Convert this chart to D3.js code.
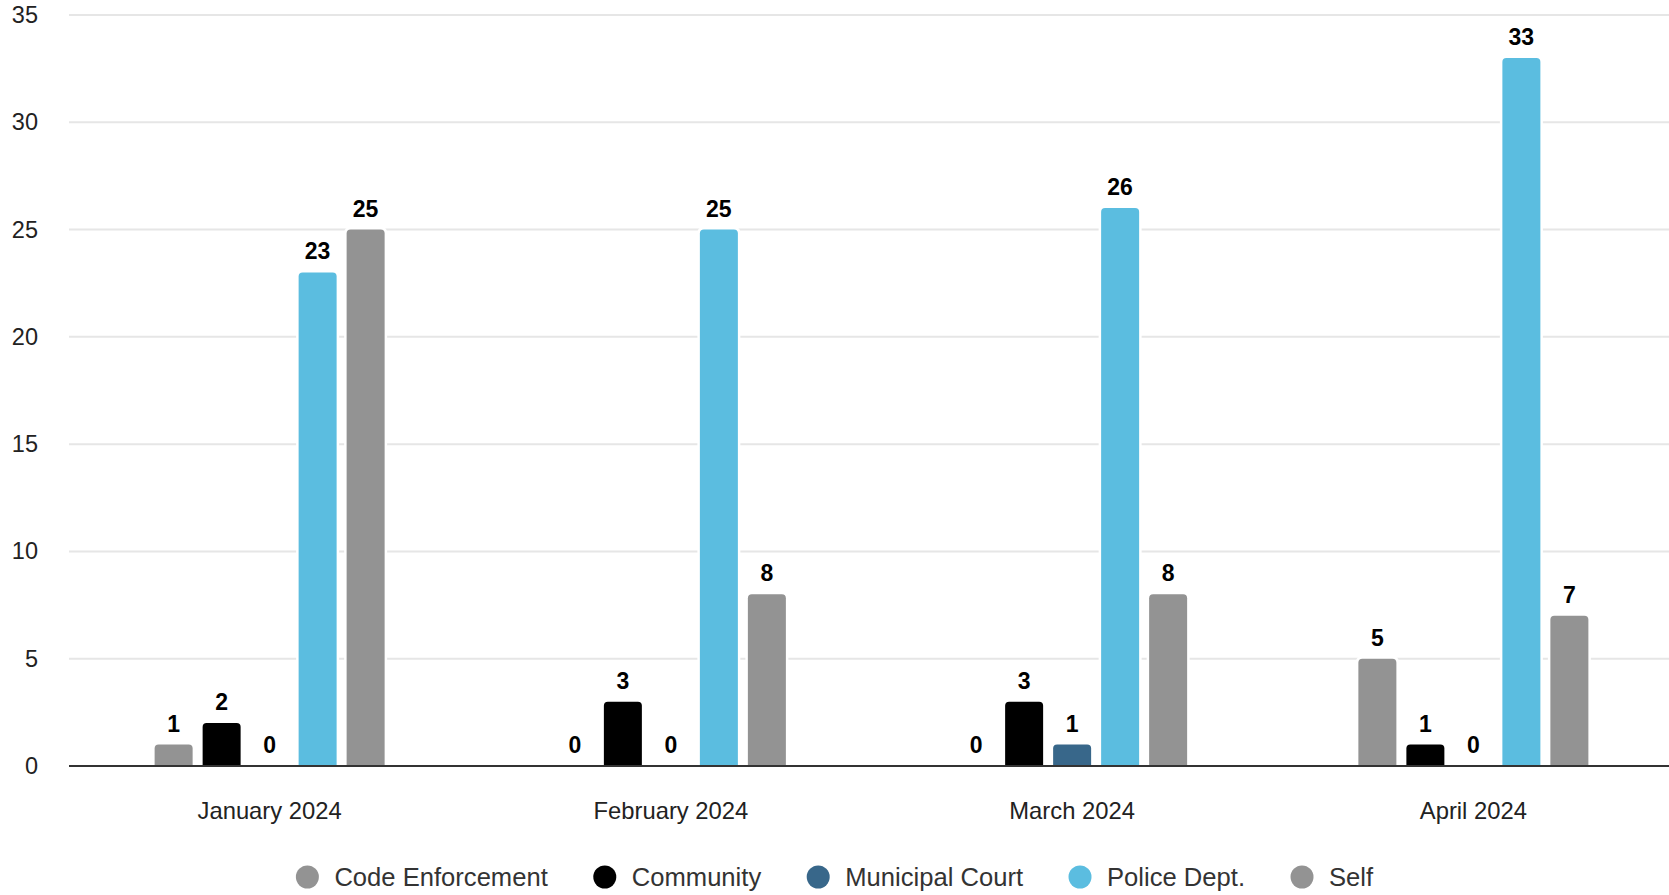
<!DOCTYPE html>
<html>
<head>
<meta charset="utf-8">
<script src="https://cdn.jsdelivr.net/npm/d3@7/dist/d3.min.js"></script>
<style>
  body { margin: 0; background: #fff; }
  text { font-family: "Liberation Sans", Arial, sans-serif; }
</style>
</head>
<body>
<div id="chart"></div>
<script>
// data
var months = ["January 2024", "February 2024", "March 2024", "April 2024"];
var seriesNames = ["Code Enforcement", "Community", "Municipal Court", "Police Dept.", "Self"];
var seriesColors = ["#939393", "#000000", "#38678a", "#5bbde0", "#939393"];
var codeEnforcement = [1, 0, 0, 5];
var community = [2, 3, 3, 1];
var municipalCourt = [0, 0, 1, 0];
var policeDept = [23, 25, 26, 33];
var self = [25, 8, 8, 7];
var yTicks = [0, 5, 10, 15, 20, 25, 30, 35];

var allSeries = [codeEnforcement, community, municipalCourt, policeDept, self];

var svgWidth = 1669;
var svgHeight = 895;

var margin = { top: 15, right: 0, bottom: 129, left: 69 };
var width = svgWidth - margin.left - margin.right;
var height = svgHeight - margin.top - margin.bottom;

var svg = d3.select("#chart")
  .append("svg")
  .attr("width", svgWidth)
  .attr("height", svgHeight);

var chartGroup = svg.append("g")
  .attr("transform", `translate(${margin.left}, ${margin.top})`);

// scales
var x0 = d3.scaleBand()
  .domain(months)
  .range([0, width + 5]);

var x1 = d3.scaleBand()
  .domain(seriesNames)
  .range([-115, 115])
  .paddingInner(10 / 48);

var yScale = d3.scaleLinear()
  .domain([0, 35])
  .range([height, 0]);

// grid lines
chartGroup.append("g")
  .selectAll("line")
  .data(yTicks.filter(d => d > 0))
  .enter()
  .append("line")
  .attr("x1", 0)
  .attr("x2", width)
  .attr("y1", d => yScale(d))
  .attr("y2", d => yScale(d))
  .attr("stroke", "#e6e6e6")
  .attr("stroke-width", 2);

// y tick labels
var leftAxis = d3.axisLeft(yScale).tickValues(yTicks).tickSize(0).tickPadding(31);
var yAxisG = chartGroup.append("g").call(leftAxis);
yAxisG.select(".domain").remove();
yAxisG.selectAll("text")
  .style("font-size", "23.5px")
  .style("font-family", "Liberation Sans, Arial, sans-serif")
  .attr("fill", "#222");

// flatten data
var barData = [];
months.forEach(function(m, i) {
  seriesNames.forEach(function(s, j) {
    barData.push({ month: m, series: s, value: allSeries[j][i], color: seriesColors[j] });
  });
});

function barPath(x, y, w, h, r) {
  if (h <= 0) return "";
  r = Math.min(r, h, w / 2);
  return `M${x},${y + h}V${y + r}Q${x},${y} ${x + r},${y}H${x + w - r}Q${x + w},${y} ${x + w},${y + r}V${y + h}Z`;
}

var bars = chartGroup.append("g");

// white halo behind bars
bars.selectAll("path.halo")
  .data(barData.filter(d => d.value > 0))
  .enter()
  .append("path")
  .attr("class", "halo")
  .attr("fill", "#fff")
  .attr("d", function(d) {
    var bx = x0(d.month) + x0.bandwidth() / 2 + x1(d.series);
    var by = yScale(d.value);
    return barPath(bx - 2.5, by - 2.5, x1.bandwidth() + 5, height - by + 2.5, 6);
  });

bars.selectAll("path.bar")
  .data(barData.filter(d => d.value > 0))
  .enter()
  .append("path")
  .attr("class", "bar")
  .attr("fill", d => d.color)
  .attr("d", function(d) {
    var bx = x0(d.month) + x0.bandwidth() / 2 + x1(d.series);
    var by = yScale(d.value);
    return barPath(bx, by, x1.bandwidth(), height - by, 4);
  });

// value labels
chartGroup.append("g")
  .selectAll("text")
  .data(barData)
  .enter()
  .append("text")
  .attr("x", d => x0(d.month) + x0.bandwidth() / 2 + x1(d.series) + x1.bandwidth() / 2)
  .attr("y", d => yScale(d.value) - 13)
  .attr("text-anchor", "middle")
  .style("font-size", "23px")
  .style("font-weight", "bold")
  .attr("fill", "#000")
  .text(d => d.value);

// baseline
chartGroup.append("line")
  .attr("x1", 0)
  .attr("x2", width)
  .attr("y1", height)
  .attr("y2", height)
  .attr("stroke", "#333")
  .attr("stroke-width", 2);

// x axis labels
var bottomAxis = d3.axisBottom(x0).tickSize(0).tickPadding(36);
var xAxisG = chartGroup.append("g")
  .attr("transform", `translate(0, ${height})`)
  .call(bottomAxis);
xAxisG.select(".domain").remove();
xAxisG.selectAll("text")
  .style("font-size", "23.8px")
  .style("font-family", "Liberation Sans, Arial, sans-serif")
  .attr("fill", "#222");

// legend
var legend = svg.append("g");
var legendY = 877;
var items = legend.selectAll("g")
  .data(seriesNames)
  .enter()
  .append("g");

items.append("circle")
  .attr("r", 11.5)
  .attr("cy", legendY)
  .attr("fill", (d, i) => seriesColors[i]);

items.append("text")
  .attr("y", legendY)
  .attr("dy", "0.35em")
  .style("font-size", "25.6px")
  .attr("fill", "#333")
  .text(d => d);

var cursor = 0;
var positions = [];
items.each(function() {
  var tw = d3.select(this).select("text").node().getComputedTextLength();
  positions.push(cursor);
  cursor += 27 + tw + 57;
});
var totalW = cursor - 57 + 11.5;
var startX = svgWidth / 2 - totalW / 2 + 11.5;
items.each(function(d, i) {
  var cx = startX + positions[i];
  d3.select(this).select("circle").attr("cx", cx);
  d3.select(this).select("text").attr("x", cx + 27);
});
</script>
</body>
</html>
